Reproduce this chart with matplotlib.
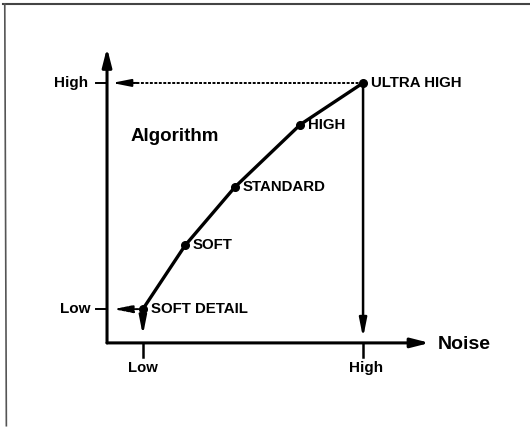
import matplotlib.pyplot as plt
from matplotlib.lines import Line2D

# algorithm settings: noise (x) vs detail (y), 0..10 scale, High = 10
names = ['SOFT DETAIL', 'SOFT', 'STANDARD', 'HIGH', 'ULTRA HIGH']
noise = [1.4, 3.05, 5.0, 7.55, 10.0]
level = [1.3, 3.75, 6.0, 8.4, 10.0]
axis_ticks = ['Low', 'High']

lo_x, hi_x = noise[0], noise[-1]
lo_y, hi_y = level[0], level[-1]

plt.rcParams['font.family'] = ['Liberation Sans', 'DejaVu Sans']

fig = plt.figure(figsize=(5.3, 4.3), dpi=100)
ax = fig.add_axes([0, 0, 1, 1])
ax.set_xlim(-4.18, 16.52)
ax.set_ylim(-3.35, 13.19)
ax.axis('off')

# frame of the scanned page (top and left edges)
fig.add_artist(Line2D([0.006, 1.0], [0.991, 0.991], color='#444444', lw=1.5))
fig.add_artist(Line2D([0.009, 0.012], [0.991, 0.01], color='#555555', lw=1.2))

def arrow(x0, y0, x1, y1, lw=2.0, ls='-', w=0.28):
    ax.annotate('', xy=(x1, y1), xytext=(x0, y0),
                arrowprops=dict(arrowstyle='-|>,head_length=1.1,head_width=%g' % w,
                                mutation_scale=10, color='black', lw=lw,
                                linestyle=ls, shrinkA=0, shrinkB=0))

# axes
arrow(0, 0, 0, 11.35, lw=2.2)
arrow(0, 0, 12.6, 0, lw=2.2)

# guides to the ends
ax.plot([hi_x, 0.35], [hi_y, hi_y], color='black', lw=1.4, ls=(0, (1.5, 0.8)))
arrow(1.2, hi_y, 0.2, hi_y, lw=1.4, w=0.22)
arrow(hi_x, hi_y, hi_x, 0.2, lw=1.8, w=0.22)
arrow(lo_x, lo_y, 0.25, lo_y, lw=1.4, ls=(0, (1.5, 0.8)), w=0.22)
arrow(lo_x, lo_y, lo_x, 0.3, lw=1.8, w=0.22)

# ticks on both axes
for v in (lo_y, hi_y):
    ax.plot([-0.45, 0], [v, v], color='black', lw=1.4)
for v in (lo_x, hi_x):
    ax.plot([v, v], [0, -0.55], color='black', lw=1.8)

# curve and points
ax.plot(noise, level, color='black', lw=2.4, marker='o', ms=5.5, zorder=3)
for x, y, n in zip(noise, level, names):
    ax.text(x + 0.3, y, n, fontsize=10.8, fontweight='bold', ha='left', va='center')

ax.text(-0.75, hi_y, axis_ticks[1], fontsize=11, fontweight='bold', ha='right', va='center')
ax.text(-0.65, lo_y, axis_ticks[0], fontsize=11, fontweight='bold', ha='right', va='center')
ax.text(lo_x, -0.95, axis_ticks[0], fontsize=10.7, fontweight='bold', ha='center', va='center')
ax.text(hi_x + 0.1, -0.95, axis_ticks[1], fontsize=11, fontweight='bold', ha='center', va='center')

ax.text(12.9, -0.05, 'Noise', fontsize=14, fontweight='bold', ha='left', va='center')
ax.text(0.9, 7.95, 'Algorithm', fontsize=13.5, fontweight='bold', ha='left', va='center')

fig.savefig('out.png', dpi=100)
